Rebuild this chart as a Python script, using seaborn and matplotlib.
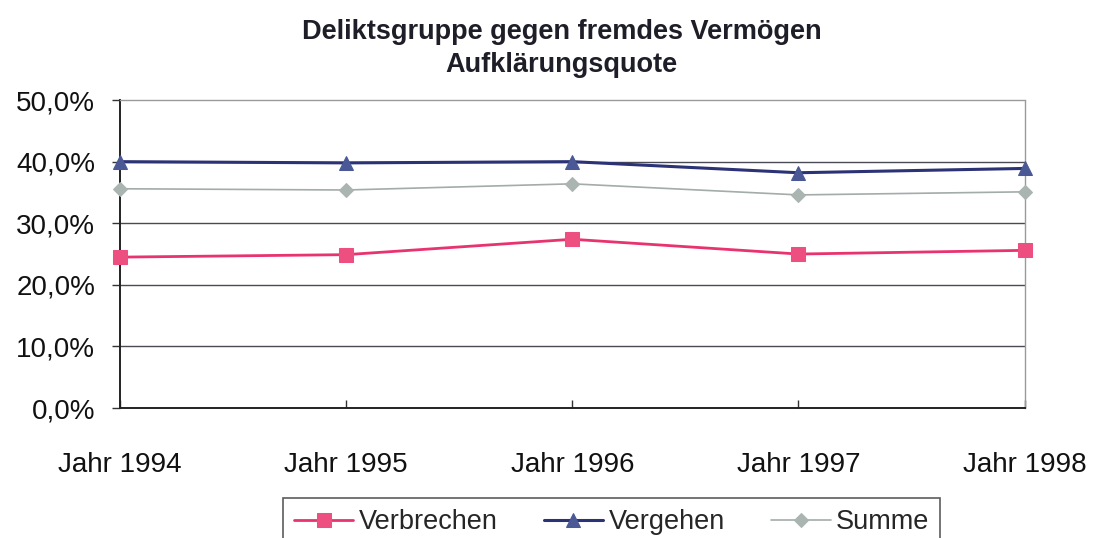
import pandas as pd
import numpy as np

import matplotlib.pyplot as plt
import seaborn as sns
from matplotlib.ticker import FuncFormatter


sns.set_theme(style="white")
plt.rcParams["font.family"] = ["Liberation Sans", "DejaVu Sans"]

jahre = ["Jahr 1994", "Jahr 1995", "Jahr 1996", "Jahr 1997", "Jahr 1998"]
verbrechen = [24.5, 24.9, 27.4, 25.0, 25.6]
vergehen = [40.0, 39.8, 40.0, 38.2, 38.9]
summe = [35.6, 35.4, 36.4, 34.6, 35.1]

df = pd.DataFrame({
    "Jahr": jahre * 3,
    "Quote": verbrechen + vergehen + summe,
    "Gruppe": ["Verbrechen"] * 5 + ["Vergehen"] * 5 + ["Summe"] * 5,
})

farben = {"Verbrechen": "#e8336f", "Vergehen": "#2b3275", "Summe": "#a3abab"}
marker = {"Verbrechen": "s", "Vergehen": "^", "Summe": "D"}
mfarben = {"Verbrechen": "#ec4f80", "Vergehen": "#4a5896", "Summe": "#aab4b0"}
breite = {"Verbrechen": 2.0, "Vergehen": 2.2, "Summe": 1.2}
msize = {"Verbrechen": 10, "Vergehen": 10, "Summe": 7}

fig = plt.figure(figsize=(10.97, 5.38), dpi=100)
ax = fig.add_axes([0.1094, 0.2416, 0.8246, 0.5724])

for g in ["Verbrechen", "Vergehen", "Summe"]:
    sub = df[df["Gruppe"] == g]
    sns.lineplot(data=sub, x="Jahr", y="Quote", ax=ax, sort=False,
                 color=farben[g], lw=breite[g], marker=marker[g],
                 markersize=msize[g], markerfacecolor=mfarben[g],
                 markeredgecolor=mfarben[g], label=g, clip_on=False, zorder=3)

ax.set_ylim(0, 50)
ax.set_xlim(0, 4)
ax.set_yticks([0, 10, 20, 30, 40, 50])
ax.yaxis.set_major_formatter(FuncFormatter(lambda v, p: f"{v:.1f}%".replace(".", ",")))
for yv in [10, 20, 30, 40]:
    ax.axhline(yv, color="#4a4a55", lw=1.0, zorder=0)

ax.set_xlabel("")
ax.set_ylabel("")
for s in ["left", "bottom"]:
    ax.spines[s].set_color("#222222")
    ax.spines[s].set_linewidth(1.4)
for s in ["top", "right"]:
    ax.spines[s].set_color("#9a9a9a")
    ax.spines[s].set_linewidth(1.0)
    ax.spines[s].set_linestyle((0, (2, 1)))

ax.tick_params(axis="x", direction="in", length=6, width=1, color="#333333",
               pad=32, labelsize=20, labelcolor="#111111", bottom=True)
ax.tick_params(axis="y", direction="out", length=6, width=1, color="#333333",
               pad=12, labelsize=20, labelcolor="#111111", left=True)

fig.suptitle("Deliktsgruppe gegen fremdes Vermögen\nAufklärungsquote",
             x=0.512, y=0.965, fontsize=19.5, fontweight="bold", color="#1e1e28",
             linespacing=1.35)

leg = ax.legend(loc="upper center", bbox_to_anchor=(0.5575, 0.074),
                bbox_transform=fig.transFigure, ncol=3, frameon=True,
                fancybox=False, fontsize=19.5, handlelength=2.2,
                columnspacing=1.7, handletextpad=0.2, borderpad=0.4,
                borderaxespad=0)
leg.get_frame().set_edgecolor("#333333")
leg.get_frame().set_linewidth(1.2)

plt.savefig("out.png", dpi=100)
